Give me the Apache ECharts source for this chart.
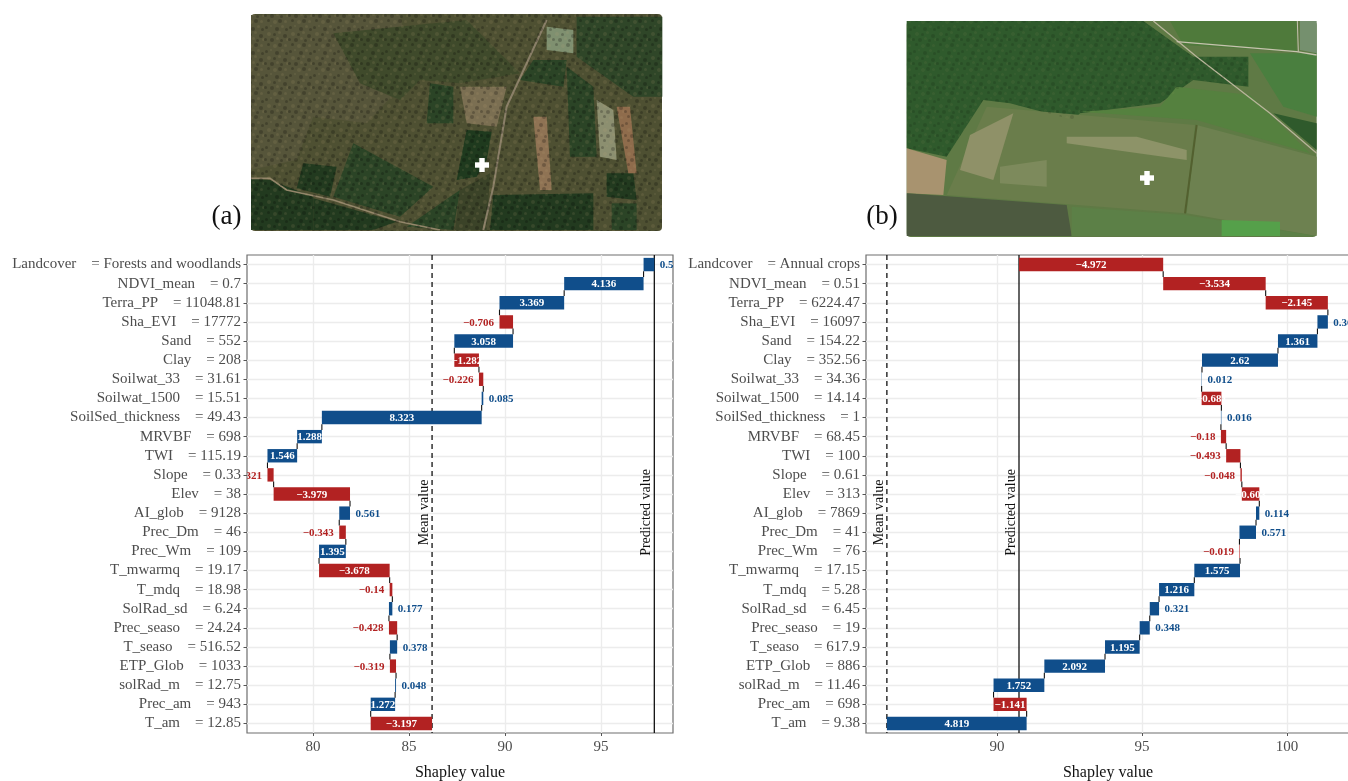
<!DOCTYPE html>
<html><head><meta charset="utf-8">
<style>html,body{margin:0;padding:0;background:#fff}#c{width:1348px;height:781px}</style>
<script src="https://cdn.jsdelivr.net/npm/echarts@6/dist/echarts.min.js"></script>
</head><body><div id="c"></div>
<script>
const featuresA = ['Landcover','NDVI_mean','Terra_PP','Sha_EVI','Sand','Clay','Soilwat_33','Soilwat_1500','SoilSed_thickness','MRVBF','TWI','Slope','Elev','AI_glob','Prec_Dm','Prec_Wm','T_mwarmq','T_mdq','SolRad_sd','Prec_seaso','T_seaso','ETP_Glob','solRad_m','Prec_am','T_am'];
const featuresB = featuresA;
const readingsA = ['Forests and woodlands','0.7','11048.81','17772','552','208','31.61','15.51','49.43','698','115.19','0.33','38','9128','46','109','19.17','18.98','6.24','24.24','516.52','1033','12.75','943','12.85'];
const readingsB = ['Annual crops','0.51','6224.47','16097','154.22','352.56','34.36','14.14','1','68.45','100','0.61','313','7869','41','76','17.15','5.28','6.45','19','617.9','886','11.46','698','9.38'];
const shapleyA = [0.56,4.136,3.369,-0.706,3.058,-1.282,-0.226,0.085,8.323,1.288,1.546,-0.321,-3.979,0.561,-0.343,1.395,-3.678,-0.14,0.177,-0.428,0.378,-0.319,0.048,1.272,-3.197];
const shapleyB = [-4.972,-3.534,-2.145,0.36,1.361,2.62,0.012,-0.681,0.016,-0.18,-0.493,-0.048,-0.603,0.114,0.571,-0.019,1.575,1.216,0.321,0.348,1.195,2.092,1.752,-1.141,4.819];
const meanValue = 86.2;
const xRangeA = [76.56, 98.75];
const xRangeB = [85.48, 102.17];

const SERIF = '"Liberation Serif","Times New Roman",serif';
const BLUE = '#104E8B', RED = '#B22222';

function rows(vals){
  const out = new Array(vals.length);
  let run = meanValue;
  for(let i = vals.length-1; i >= 0; i--){
    out[i] = [run, run+vals[i], i, vals[i]];
    run += vals[i];
  }
  return out;
}
const rowsA = rows(shapleyA), rowsB = rows(shapleyB);
const predictedA = rowsA[0][1], predictedB = rowsB[0][1];

function renderBar(params, api){
  const s = api.value(0), e = api.value(1), idx = api.value(2), v = api.value(3);
  const band = api.size([0,1])[1], h = band*0.7;
  const p0 = api.coord([s, idx]), p1 = api.coord([e, idx]);
  const x0 = Math.min(p0[0],p1[0]), w = Math.abs(p1[0]-p0[0]), y = p0[1];
  const col = v >= 0 ? BLUE : RED;
  const txt = String(v).replace('-','\u2212');
  const ch = [{type:'rect',shape:{x:x0,y:y-h/2,width:w,height:h},style:{fill:col}}];
  if(idx > 0){
    ch.push({type:'line',shape:{x1:p1[0],y1:y-h/2,x2:p1[0],y2:y-band+h/2},style:{stroke:'#111',lineWidth:1.1}});
  }
  const font = 'bold 11px '+SERIF, ty = y + 0.8;
  if(w >= 17){
    ch.push({type:'text',style:{text:txt,x:x0+w/2,y:ty,fill:'#fff',font:font,align:'center',verticalAlign:'middle'}});
  }else if(v >= 0){
    ch.push({type:'text',style:{text:txt,x:x0+w+5.5,y:ty,fill:col,font:font,align:'left',verticalAlign:'middle'}});
  }else{
    ch.push({type:'text',style:{text:txt,x:x0-5.5,y:ty,fill:col,font:font,align:'right',verticalAlign:'middle'}});
  }
  return {type:'group',children:ch};
}
function renderRef(params, api){
  const x = api.coord([api.value(0), 12])[0];
  const dashed = api.value(1) === 1;
  const cs = params.coordSys;
  const label = dashed ? 'Mean value' : 'Predicted value';
  return {type:'group',children:[
    {type:'line',shape:{x1:x,y1:cs.y,x2:x,y2:cs.y+cs.height},style:{stroke:'#111',lineWidth:1.3,lineDash:dashed?[5,4]:null}},
    {type:'text',x:x-7.5,y:512.5,rotation:Math.PI/2,style:{text:label,x:0,y:0,fill:'#111',font:'14px '+SERIF,align:'center',verticalAlign:'middle'}}
  ]};
}
function xAxis(grid, range){
  return {type:'value',gridIndex:grid,min:range[0],max:range[1],splitNumber:4,
    name:'Shapley value',nameLocation:'middle',nameGap:32,
    nameTextStyle:{fontFamily:SERIF,fontSize:16,color:'#111'},
    axisLine:{show:false},axisTick:{show:true,length:3,lineStyle:{color:'#555'}},
    axisLabel:{fontFamily:SERIF,fontSize:15,color:'#4d4d4d',margin:7,showMinLabel:false,showMaxLabel:false,formatter:v=>String(v)},
    splitLine:{show:true,showMinLine:false,showMaxLine:false,lineStyle:{color:'#ececec',width:1.3}}};
}
function yAxis(grid, feats, reads){
  return {type:'category',gridIndex:grid,inverse:true,
    data:feats.map((f,i)=>f+'    = '+reads[i]),
    axisLine:{show:false},
    axisTick:{show:true,alignWithLabel:true,length:3.5,lineStyle:{color:'#555'}},
    axisLabel:{interval:0,fontFamily:SERIF,fontSize:15,color:'#4d4d4d',margin:6,padding:[2,0,0,0]},
    splitLine:{show:true,interval:0,alignWithLabel:true,lineStyle:{color:'#ececec',width:1.3}}};
}
function refSeries(i, pred){
  return {type:'custom',xAxisIndex:i,yAxisIndex:i,clip:true,z:2,silent:true,renderItem:renderRef,
    encode:{x:0},data:[[meanValue,1],[pred,0]],animation:false};
}
function barSeries(i, data){
  return {type:'custom',xAxisIndex:i,yAxisIndex:i,clip:true,z:3,silent:true,renderItem:renderBar,
    encode:{x:[0,1],y:2},data:data,animation:false};
}

/* photographs: flat approximation of the two aerial images */
const g = [];
function poly(ox, oy, pts, fill, op){
  g.push({type:'polygon',silent:true,z:1,shape:{points:pts.map(p=>[ox+p[0]/3, oy+p[1]/3])},style:{fill:fill,opacity:op==null?1:op}});
}
function road(ox, oy, pts, col, w){
  g.push({type:'polyline',silent:true,z:1,shape:{points:pts.map(p=>[ox+p[0]/3, oy+p[1]/3])},style:{stroke:col,lineWidth:w,fill:null}});
}
function plus(cx, cy){
  g.push({type:'rect',silent:true,z:3,shape:{x:cx-7,y:cy-2.7,width:14,height:5.4},style:{fill:'#fff'}});
  g.push({type:'rect',silent:true,z:3,shape:{x:cx-2.7,y:cy-7,width:5.4,height:14},style:{fill:'#fff'}});
}
function panelLabel(t, x){
  g.push({type:'text',silent:true,z:3,style:{text:t,x:x,y:217,fill:'#111',font:'27px '+SERIF,align:'center',verticalAlign:'middle'}});
}
/* fixed foliage tile laid over the photographs */
const tileDots = [[1,2,3,0],[6,1,2,1],[11,3,4,0],[17,1,3,1],[21,4,3,0],[3,8,4,1],[9,9,3,0],[14,7,3,1],[19,10,4,0],[0,14,3,0],[6,14,4,0],[12,13,3,1],[16,15,3,0],[22,14,3,1],[3,19,3,0],[9,20,4,1],[14,19,4,0],[20,20,3,1]];
function foliageTile(){
  const c = document.createElement('canvas'); c.width = 24; c.height = 24;
  const x = c.getContext('2d');
  tileDots.forEach(d=>{
    x.fillStyle = d[3] ? 'rgba(190,170,120,0.13)' : 'rgba(0,0,0,0.22)';
    x.beginPath(); x.arc(d[0]+d[2]/2,d[1]+d[2]/2,d[2]/2,0,7); x.fill();
  });
  return {image:c,repeat:'repeat'};
}
// (a)
g.push({type:'rect',silent:true,z:1,shape:{x:251,y:14,width:411,height:217,r:4},style:{fill:'#4e5032'}});
const ax=200, ay=0, dk='#223a1f', dk2='#2b4426';
poly(ax,ay,[[153,45],[600,45],[640,220],[500,370],[340,350],[290,480],[153,510]],'#56553a');
poly(ax,ay,[[400,100],[800,60],[960,220],[780,250],[660,240],[600,300],[480,250]],'#3f4a2b');
poly(ax,ay,[[153,535],[210,540],[340,590],[340,690],[153,690]],dk);
poly(ax,ay,[[400,590],[460,430],[700,560],[600,650]],dk2);
poly(ax,ay,[[340,595],[590,665],[520,690],[340,690]],dk);
poly(ax,ay,[[800,390],[875,395],[860,480],[830,530],[770,540]],'#1f3a1e');
poly(ax,ay,[[880,585],[1180,580],[1180,690],[870,690]],dk);
poly(ax,ay,[[1100,200],[1180,260],[1190,470],[1110,470]],dk2);
poly(ax,ay,[[1130,50],[1387,50],[1387,290],[1300,290],[1130,170]],'#2f4628');
poly(ax,ay,[[1220,520],[1300,520],[1310,600],[1220,590]],dk);
poly(ax,ay,[[1235,610],[1310,610],[1310,690],[1235,690]],dk2);
poly(ax,ay,[[690,250],[760,260],[760,370],[680,370]],dk2);
poly(ax,ay,[[620,680],[780,570],[760,690]],dk2);
poly(ax,ay,[[310,490],[410,500],[390,590],[290,565]],dk);
poly(ax,ay,[[1000,180],[1100,180],[1090,260],[960,240]],dk2);
poly(ax,ay,[[780,570],[870,520],[860,690],[765,690]],'#3b4328');
poly(ax,ay,[[1000,350],[1040,350],[1055,570],[1020,570]],'#8f7354');
poly(ax,ay,[[1250,320],[1290,320],[1310,520],[1285,520]],'#8f6c4c');
poly(ax,ay,[[780,260],[920,260],[890,380],[800,370]],'#7b6f52');
poly(ax,ay,[[1040,80],[1120,90],[1120,160],[1040,150]],'#7f9070');
poly(ax,ay,[[1190,300],[1240,330],[1250,480],[1200,470]],'#8c8f70');
road(ax,ay,[[153,535],[210,535],[260,570],[400,600],[600,665],[720,690]],'#93866a',1.6);
road(ax,ay,[[850,690],[880,560],[920,320],[1040,60]],'#8a7f68',2);
const tile = foliageTile();
g.push({type:'rect',silent:true,z:2,shape:{x:251,y:14,width:411,height:217,r:4},style:{fill:tile}});
// (b)
g.push({type:'rect',silent:true,z:1,shape:{x:906.7,y:21,width:410,height:216,r:4},style:{fill:'#5f7a45'}});
const bx=860, by=0, fo='#2f5a2c';
poly(bx,by,[[140,63],[850,63],[1000,170],[1165,170],[1165,260],[1000,240],[900,310],[660,340],[640,360],[450,310],[370,300],[260,470],[140,445]],fo);
poly(bx,by,[[930,63],[1310,63],[1310,155],[970,135]],'#4f7a3b');
poly(bx,by,[[1170,160],[1370,160],[1370,350],[1270,320]],'#4a7f3f');
poly(bx,by,[[1320,63],[1370,63],[1370,160],[1320,150]],'#75906e');
poly(bx,by,[[1240,340],[1370,370],[1370,450]],fo);
poly(bx,by,[[140,445],[260,480],[250,585],[140,580]],'#a8936f');
poly(bx,by,[[140,580],[620,615],[635,708],[140,708]],'#4d5a40');
poly(bx,by,[[380,320],[1005,375],[975,640],[260,585]],'#6a7d4b');
poly(bx,by,[[330,405],[460,340],[400,540],[300,510]],'#8f9168');
poly(bx,by,[[620,410],[830,410],[980,450],[980,480],[620,430]],'#8d9368');
poly(bx,by,[[420,500],[560,480],[560,560],[420,550]],'#7d8a5c');
poly(bx,by,[[660,335],[900,320],[950,260],[1170,285],[1350,460],[1010,360]],'#55813f');
poly(bx,by,[[1010,375],[1370,470],[1370,708],[980,640]],'#6d8150');
poly(bx,by,[[635,620],[975,645],[1370,708],[635,708]],'#5c8047');
poly(bx,by,[[1085,660],[1260,665],[1260,708],[1085,708]],'#55a04a');
road(bx,by,[[880,63],[1010,170],[1230,340],[1370,460]],'#b8b59a',1.3);
road(bx,by,[[950,125],[1310,155],[1370,165]],'#c6c3ae',1.3);
road(bx,by,[[1312,63],[1315,155]],'#c6c3ae',1);
road(bx,by,[[1010,375],[975,640]],'#53602f',2);
g.push({type:'polygon',silent:true,z:2,shape:{points:[[140,63],[850,63],[1000,170],[1165,170],[1165,260],[1000,240],[900,310],[660,340],[640,360],[450,310],[370,300],[260,470],[140,445]].map(p=>[bx+p[0]/3,by+p[1]/3])},style:{fill:tile,opacity:0.55}});
plus(482,165); plus(1147,178);
panelLabel('(a)',226.5); panelLabel('(b)',882);

const chart = echarts.init(document.getElementById('c'),null,{renderer:'canvas'});
chart.setOption({
  animation:false,backgroundColor:'#fff',
  graphic:g,
  grid:[
    {left:247,top:255,width:426,height:478,outerBoundsMode:'none',show:true,borderColor:'#6e6e6e',borderWidth:1.2,backgroundColor:'#fff'},
    {left:866,top:255,width:484,height:478,outerBoundsMode:'none',show:true,borderColor:'#6e6e6e',borderWidth:1.2,backgroundColor:'#fff'}
  ],
  xAxis:[xAxis(0,xRangeA),xAxis(1,xRangeB)],
  yAxis:[yAxis(0,featuresA,readingsA),yAxis(1,featuresB,readingsB)],
  series:[refSeries(0,predictedA),barSeries(0,rowsA),refSeries(1,predictedB),barSeries(1,rowsB)]
});
</script></body></html>
